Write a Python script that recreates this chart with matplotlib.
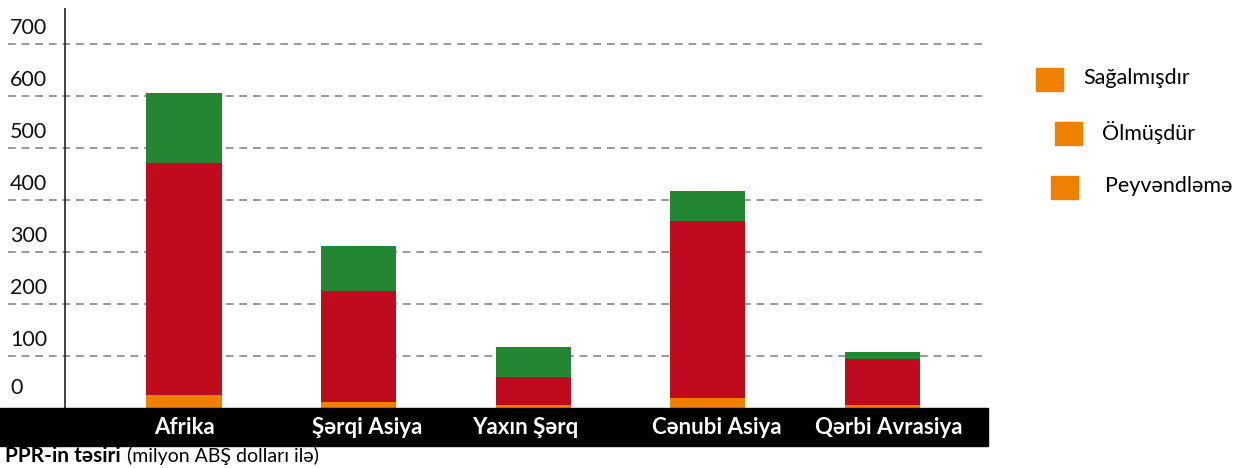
import matplotlib.pyplot as plt
from matplotlib.patches import Rectangle
import numpy as np

plt.rcParams['font.family'] = ['Lato', 'DejaVu Sans']

regions = ['Afrika', 'Şərqi Asiya', 'Yaxın Şərq', 'Cənubi Asiya', 'Qərbi Avrasiya']
peyvendleme = [25, 12, 5, 19, 6]
olmusdur = [446, 213, 55, 341, 88]
sagalmisdir = [135, 86, 57, 57, 14]
yticks = [0, 100, 200, 300, 400, 500, 600, 700]
legend_labels = ['Sağalmışdır', 'Ölmüşdür', 'Peyvəndləmə']

W, H = 1243, 468
fig = plt.figure(figsize=(W / 100, H / 100), dpi=100)


def fx(px):
    return px / W


def fy(py):
    return 1 - py / H


ax = fig.add_axes([fx(8), fy(408), fx(988) - fx(8), fy(8) - fy(408)])

x = np.arange(len(regions))
green = '#238632'
red = '#c00b1e'
orange = '#f08000'
w = 0.43

ax.bar(x, peyvendleme, w, color=orange, zorder=3)
ax.bar(x, olmusdur, w, bottom=peyvendleme, color=red, zorder=3)
bottom2 = np.array(peyvendleme) + np.array(olmusdur)
ax.bar(x, sagalmisdir, w, bottom=bottom2, color=green, zorder=3)

ax.set_xlim(-1.008, 4.605)
ax.set_ylim(0, 769)

for t in yticks[1:]:
    ax.axhline(t, color='#9a9a9a', lw=1.4, ls=(0, (4, 3)), zorder=1)
for t in yticks:
    off = 11 if t > 0 else 19
    ax.text(0.002, t + off, str(t), transform=ax.get_yaxis_transform(),
            ha='left', va='bottom', fontsize=15.5, color='#111111')

ax.axvline(-0.68, color='#222222', lw=1.2, zorder=2)

for s in ax.spines.values():
    s.set_visible(False)
ax.set_xticks([])
ax.set_yticks([])

# black category band, labels sit a bit off the bar centres like the original
fig.patches.append(Rectangle((0, fy(446)), fx(988), fy(408) - fy(446),
                             transform=fig.transFigure, color='black', zorder=0))
label_px = [184, 367, 525, 717, 889]
for px, r in zip(label_px, regions):
    fig.text(fx(px), fy(427), r, ha='center', va='center', color='white',
             fontsize=16, fontweight='bold')

# caption
t1 = fig.text(fx(5), fy(456), 'PPR-in təsiri', ha='left', va='center',
              fontsize=15, fontweight='bold')
fig.canvas.draw()
bb = t1.get_window_extent()
fig.text(bb.x1 / W + fx(6), fy(456), '(milyon ABŞ dolları ilə)', ha='left',
         va='center', fontsize=14)

# legend (all swatches orange, as in the reference)
legend_pos = [(1036, 68, 1083), (1055, 122, 1102), (1051, 176, 1105)]
for (sx, sy, tx), lab in zip(legend_pos, legend_labels):
    fig.patches.append(Rectangle((fx(sx), fy(sy + 23)), fx(27), fy(0) - fy(23),
                                 transform=fig.transFigure, color=orange))
    fig.text(fx(tx), fy(sy + 10), lab, ha='left', va='center', fontsize=15.5)

fig.savefig('out.png', dpi=100)
